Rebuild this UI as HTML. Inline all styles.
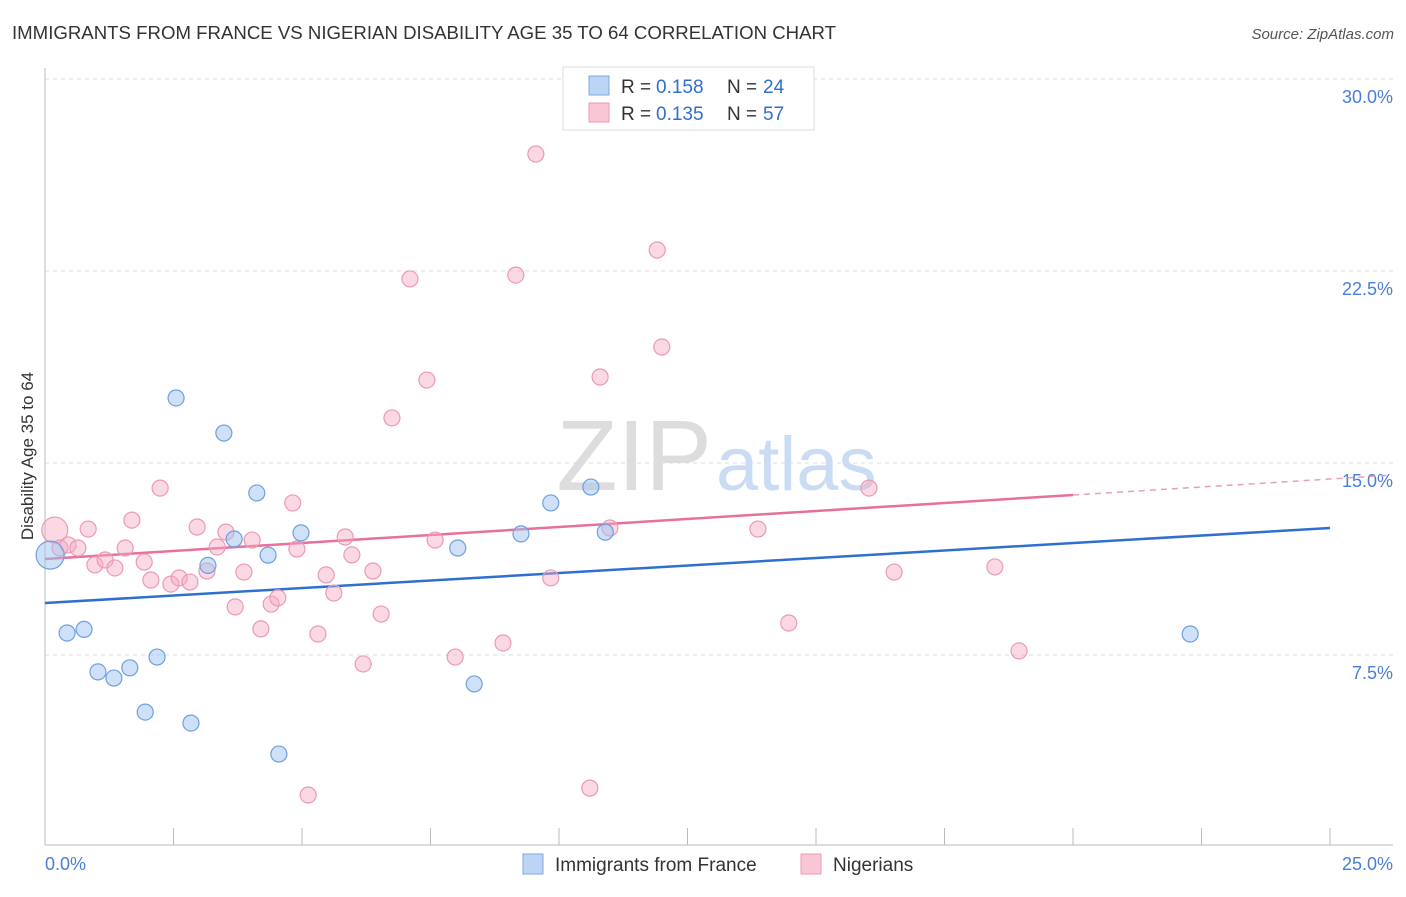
<!DOCTYPE html>
<html><head><meta charset="utf-8"><style>
body{margin:0;background:#fff;font-family:"Liberation Sans",sans-serif}
svg text{font-family:"Liberation Sans",sans-serif}
</style></head><body>
<svg id="c" width="1406" height="892" viewBox="0 0 1406 892">
<text x="12" y="39" font-size="18.5" fill="#333" textLength="824" lengthAdjust="spacingAndGlyphs">IMMIGRANTS FROM FRANCE VS NIGERIAN DISABILITY AGE 35 TO 64 CORRELATION CHART</text>
<text x="1394" y="39" font-size="15" fill="#555" text-anchor="end" font-style="italic">Source: ZipAtlas.com</text>
<text x="712" y="490" font-size="100" fill="#ddd" text-anchor="end" font-family="Liberation Serif">ZIP</text>
<text x="716" y="490" font-size="76" fill="#c9dcf3">atlas</text>
<g id="grid"></g>
<line x1="45" y1="68" x2="45" y2="845" stroke="#bbb"/>
<line x1="45" y1="845" x2="1393" y2="845" stroke="#bbb"/>
<text transform="translate(33,456) rotate(-90)" font-size="17" fill="#333" text-anchor="middle">Disability Age 35 to 64</text>
<text x="45" y="870" font-size="18" fill="#4a7fd4">0.0%</text>
<text x="1393" y="870" font-size="18" fill="#4a7fd4" text-anchor="end">25.0%</text>
<g id="lines"></g>
<g id="pts"></g>
<g>
<rect x="563" y="67" width="251" height="63" fill="#fff" stroke="#ddd"/>
<rect x="589" y="76" width="20" height="19" fill="#bcd5f5" stroke="#7fa8e0"/>
<rect x="589" y="103" width="20" height="19" fill="#f9c6d5" stroke="#ec9ab3"/>
<text y="93" font-size="19" fill="#333"><tspan x="621">R =</tspan><tspan x="656" fill="#2f6fd0">0.158</tspan><tspan x="727">N =</tspan><tspan x="763" fill="#2f6fd0">24</tspan></text>
<text y="120" font-size="19" fill="#333"><tspan x="621">R =</tspan><tspan x="656" fill="#2f6fd0">0.135</tspan><tspan x="727">N =</tspan><tspan x="763" fill="#2f6fd0">57</tspan></text>
</g>
<g>
<rect x="523" y="854" width="20" height="20" fill="#bcd5f5" stroke="#7fa8e0"/>
<text x="555" y="871" font-size="19" fill="#333">Immigrants from France</text>
<rect x="801" y="854" width="20" height="20" fill="#f9c6d5" stroke="#ec9ab3"/>
<text x="833" y="871" font-size="19" fill="#333">Nigerians</text>
</g>
</svg>
<script>
const yTicks=[7.5,15,22.5,30];
const yTickLabels=["7.5%","15.0%","22.5%","30.0%"];
const xTickVals=[0,2.5,5,7.5,10,12.5,15,17.5,20,22.5,25];
const franceX=[0.1,0.43,0.76,1.03,1.34,1.65,1.95,2.18,2.55,2.84,3.17,3.48,3.68,4.12,4.34,4.55,4.98,8.03,8.35,9.26,9.84,10.62,10.9,22.28];
const franceY=[11.4,8.36,8.5,6.84,6.6,7.0,5.27,7.42,17.54,4.84,11.0,16.17,12.03,13.83,11.4,3.63,12.27,11.68,6.37,12.23,13.44,14.06,12.3,8.32];
const nigX=[0.19,0.29,0.45,0.64,0.84,0.97,1.17,1.36,1.56,1.69,1.93,2.06,2.24,2.45,2.61,2.82,2.96,3.15,3.35,3.52,3.70,3.87,4.03,4.20,4.40,4.53,4.82,4.90,5.12,5.31,5.47,5.62,5.84,5.97,6.19,6.38,6.54,6.75,7.10,7.43,7.59,7.98,8.91,9.16,9.55,9.84,10.60,10.80,10.99,11.91,12.0,13.87,14.47,16.03,16.52,18.48,18.95];
const nigY=[12.38,11.68,11.8,11.68,12.42,11.02,11.21,10.9,11.68,12.77,11.13,10.43,14.02,10.27,10.51,10.35,12.5,10.78,11.72,12.3,9.38,10.74,11.99,8.52,9.49,9.73,13.44,11.64,2.03,8.32,10.63,9.92,12.11,11.41,7.15,10.78,9.1,16.76,22.19,18.24,11.99,7.42,7.97,22.34,27.07,10.51,2.3,18.36,12.46,23.32,19.53,12.42,8.75,14.02,10.74,10.94,7.66];
const franceTrend=[9.53,12.46];
const nigTrend=[11.25,13.75];
const NS="http://www.w3.org/2000/svg";
const X=v=>45+v*51.4, Y=v=>847-v*25.6;
function mk(t,a,p){const e=document.createElementNS(NS,t);for(const k in a)e.setAttribute(k,a[k]);p.appendChild(e);return e;}
const g=document.getElementById('grid');
yTicks.forEach((v,i)=>{
 const l=mk('line',{x1:45,x2:1393,y1:Y(v),y2:Y(v),stroke:'#ddd','stroke-dasharray':'4 4'},g);
 
 
 const t=mk('text',{x:1393,y:Y(v)+24,'font-size':18,fill:'#4a7fd4','text-anchor':'end'},g);
 t.textContent=yTickLabels[i];
 
 
});
xTickVals.forEach(v=>{
 const l=mk('line',{x1:X(v),x2:X(v),y1:828,y2:845,stroke:'#bbb'},g);
 
 
});
const L=document.getElementById('lines');
let a=mk('line',{x1:X(0),y1:Y(franceTrend[0]),x2:X(25),y2:Y(franceTrend[1]),stroke:'#2f6fd0','stroke-width':2.5},L);


let b=mk('line',{x1:X(0),y1:Y(nigTrend[0]),x2:X(20),y2:Y(nigTrend[1]),stroke:'#e8709a','stroke-width':2.5},L);


const s=(nigTrend[1]-nigTrend[0])/20;
let d=mk('line',{x1:X(20),y1:Y(nigTrend[1]),x2:X(26.2),y2:Y(nigTrend[0]+s*26.2),stroke:'#e8a0b8','stroke-width':1.5,'stroke-dasharray':'6 5'},L);


const P=document.getElementById('pts');
nigX.forEach((x,i)=>{
 const c=mk('circle',{cx:X(x),cy:Y(nigY[i]),r:i==0?13:8,fill:'rgba(245,170,195,0.45)',stroke:'#eb9ab4','stroke-width':1.2},P);
 
 
});
franceX.forEach((x,i)=>{
 const c=mk('circle',{cx:X(x),cy:Y(franceY[i]),r:i==0?14:8,fill:'rgba(160,195,240,0.5)',stroke:'#6e9fe0','stroke-width':1.2},P);
 
 
});
</script>
</body></html>
